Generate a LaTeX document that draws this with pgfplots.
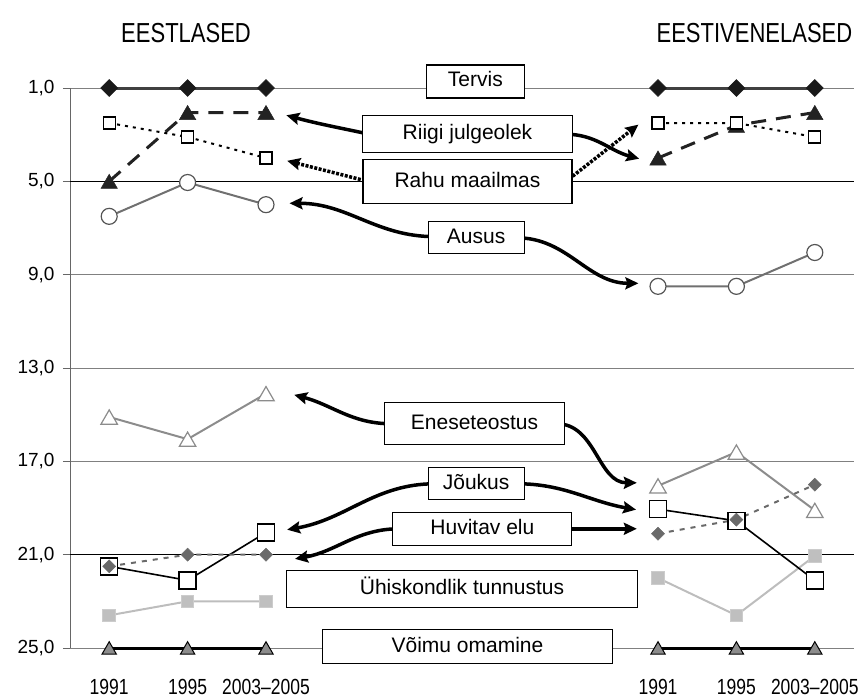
\documentclass[border=0pt]{standalone}
\usepackage{fontspec}
\setmainfont{Liberation Sans}
\usepackage{pgfplots}
\pgfplotsset{compat=1.18}
\usetikzlibrary{arrows.meta}

\definecolor{cTerv}{HTML}{404040}
\definecolor{cRiigi}{HTML}{222222}
\definecolor{cAusL}{HTML}{707070}
\definecolor{cAusM}{HTML}{555555}
\definecolor{cEne}{HTML}{8C8C8C}
\definecolor{cHuv}{HTML}{6A6A6A}
\definecolor{cYhiL}{HTML}{BDBDBD}
\definecolor{cYhiF}{HTML}{BFBFBF}
\definecolor{cVoim}{HTML}{8C8C8C}
\definecolor{cGrid}{HTML}{808080}

\newcommand{\tall}[1]{\scalebox{1}[1.25]{#1}}

\tikzset{
  arr/.style={line width=3.5bp, -{Stealth[length=13bp, width=12bp, inset=2bp]}},
  darr/.style={arr, dash pattern=on 3bp off 1.5bp},
  box/.style={draw=black, fill=white, line width=1.2bp, inner sep=0pt,
    font=\fontsize{21bp}{24bp}\selectfont, text height=15bp, text depth=4bp},
}

\begin{document}
\begin{tikzpicture}
\path[use as bounding box] (0,0) rectangle (867bp,700bp);
\begin{axis}[
  at={(70bp,52bp)}, anchor=south west,
  scale only axis, width=784bp, height=560bp,
  xmin=-0.5, xmax=9.5, ymin=1, ymax=25,
  y dir=reverse,
  clip=false,
  axis y line*=left, axis x line*=bottom,
  x axis line style={draw=none},
  y axis line style={draw=cGrid!80!black, line width=1bp},
  ytick={1,5,9,13,17,21,25},
  ymajorgrids, major grid style={draw=cGrid, line width=1bp},
  ytick align=outside,
  major tick length=7bp,
  every tick/.append style={draw=cGrid!80!black, line width=1bp},
  every x tick/.append style={draw=none},
  xtick={0,1,2,7,8,9},
  xticklabels={\tall{1991},\tall{1995},\tall{2003–2005},\tall{1991},\tall{1995},\tall{2003–2005}},
  /pgf/number format/assume math mode=true,
  yticklabel style={/pgf/number format/fixed, /pgf/number format/fixed zerofill,
    /pgf/number format/precision=1, /pgf/number format/use comma,
    font=\fontsize{19bp}{21bp}\selectfont, xshift=-5bp},
  xticklabel style={font=\fontsize{17.5bp}{20bp}\selectfont, yshift=-28bp},
  unbounded coords=jump,
]
\draw[black, line width=1bp] (axis cs:-0.5,5) -- (axis cs:9.5,5);
\draw[black, line width=1bp] (axis cs:-0.5,21) -- (axis cs:9.5,21);

% Tervis
\addplot[color=cTerv, line width=3bp, mark=square*, mark size=6bp,
  mark options={rotate=45, fill=black!90, draw=black!90, line width=0.5bp}]
  coordinates {(0,1)(1,1)(2,1)(4.5,nan)(7,1)(8,1)(9,1)};
% Riigi julgeolek
\addplot[color=cRiigi, line width=3bp, dash pattern=on 15bp off 10bp,
  mark=triangle*, mark size=9.5bp,
  mark options={solid, fill=cRiigi, draw=cRiigi, line width=0.5bp, yshift=-2.4bp}]
  coordinates {(0,5.0)(1,2.05)(2,2.05)(4.5,nan)(7,4.0)(8,2.6)(9,2.05)};
% Rahu maailmas
\addplot[color=black, line width=2bp, dash pattern=on 3bp off 5bp,
  mark=square*, mark size=6bp,
  mark options={solid, fill=white, draw=black, line width=1.2bp}]
  coordinates {(0,2.5)(1,3.1)(2,4.0)(4.5,nan)(7,2.5)(8,2.5)(9,3.1)};
% Ausus
\addplot[color=cAusL, line width=2bp, mark=*, mark size=8bp,
  mark options={solid, fill=white, draw=cAusM, line width=1.2bp}]
  coordinates {(0,6.5)(1,5.05)(2,6.0)(4.5,nan)(7,9.5)(8,9.5)(9,8.05)};
% Eneseteostus
\addplot[color=cEne, line width=2bp, mark=triangle*, mark size=9.5bp,
  mark options={solid, fill=white, draw=cEne, line width=1.2bp, yshift=-2.4bp}]
  coordinates {(0,15.1)(1,16.05)(2,14.1)(4.5,nan)(7,18.05)(8,16.6)(9,19.1)};
% Yhiskondlik tunnustus
\addplot[color=cYhiL, line width=2bp, mark=square*, mark size=6.3bp,
  mark options={solid, fill=cYhiF, draw=cYhiF!80!white, line width=1bp}]
  coordinates {(0,23.6)(1,23.0)(2,23.0)(4.5,nan)(7,22.0)(8,23.6)(9,21.05)};
% Joukus
\addplot[color=black, line width=1.6bp, mark=square*, mark size=8.5bp,
  mark options={solid, fill=white, draw=black, line width=1.4bp}]
  coordinates {(0,21.5)(1,22.1)(2,20.05)(4.5,nan)(7,19.05)(8,19.55)(9,22.1)};
% Huvitav elu
\addplot[color=cHuv, line width=2bp, dash pattern=on 5bp off 6bp,
  mark=square*, mark size=4.6bp,
  mark options={solid, rotate=45, fill=cHuv, draw=cHuv, line width=0.5bp}]
  coordinates {(0,21.5)(1,21.0)(2,21.0)(4.5,nan)(7,20.1)(8,19.5)(9,18.0)};
% Voimu omamine
\addplot[color=black, line width=3bp, mark=triangle*, mark size=8.3bp,
  mark options={solid, fill=cVoim, draw=black, line width=1bp, yshift=-2bp}]
  coordinates {(0,25)(1,25)(2,25)(4.5,nan)(7,25)(8,25)(9,25)};

% arrows
\draw[arr] (axis cs:3.32,2.98) to[out=168,in=-15] (axis cs:2.26,2.17);
\draw[darr] (axis cs:3.32,5.02) -- (axis cs:2.27,4.12);
\draw[arr] (axis cs:4.15,7.37) to[out=180,in=0] (axis cs:2.30,5.94);
\draw[arr] (axis cs:5.82,2.98) to[out=0,in=165] (axis cs:6.76,4.03);
\draw[darr] (axis cs:5.82,5.02) -- (axis cs:6.75,2.57);
\draw[arr] (axis cs:5.20,7.42) to[out=0,in=180] (axis cs:6.75,9.37);
\draw[arr] (axis cs:3.60,15.39) to[out=180,in=-15] (axis cs:2.36,14.15);
\draw[arr] (axis cs:5.71,15.39) to[out=0,in=180] (axis cs:6.73,17.92);
\draw[arr] (axis cs:4.16,17.96) to[out=180,in=10] (axis cs:2.27,19.93);
\draw[arr] (axis cs:5.20,17.96) to[out=0,in=170] (axis cs:6.72,19.07);
\draw[arr] (axis cs:3.70,19.89) to[out=180,in=10] (axis cs:2.37,21.18);
\draw[arr] (axis cs:5.82,19.89) -- (axis cs:6.73,19.89);

% boxes
\node[box, minimum width=98bp, minimum height=33bp] at (axis cs:4.67,0.72) {Tervis};
\node[box, minimum width=210bp, minimum height=37bp] at (axis cs:4.57,2.98) {Riigi julgeolek};
\node[box, minimum width=209bp, minimum height=44bp] at (axis cs:4.57,5.02) {Rahu maailmas};
\node[box, minimum width=96bp, minimum height=32bp] at (axis cs:4.68,7.42) {Ausus};
\node[box, minimum width=180bp, minimum height=42bp] at (axis cs:4.66,15.39) {Eneseteostus};
\node[box, minimum width=96bp, minimum height=32bp] at (axis cs:4.68,17.96) {Jõukus};
\node[box, minimum width=179bp, minimum height=33bp] at (axis cs:4.76,19.91) {Huvitav elu};
\node[box, minimum width=351bp, minimum height=37bp] at (axis cs:4.50,22.48) {Ühiskondlik tunnustus};
\node[box, minimum width=290bp, minimum height=34bp] at (axis cs:4.57,24.95) {Võimu omamine};

% headings
\node[anchor=base, font=\fontsize{22bp}{24bp}\selectfont] at (axis cs:0.98,-0.94) {\tall{EESTLASED}};
\node[anchor=base, font=\fontsize{22bp}{24bp}\selectfont] at (axis cs:8.23,-0.94) {\tall{EESTIVENELASED}};
\end{axis}
\end{tikzpicture}
\end{document}
